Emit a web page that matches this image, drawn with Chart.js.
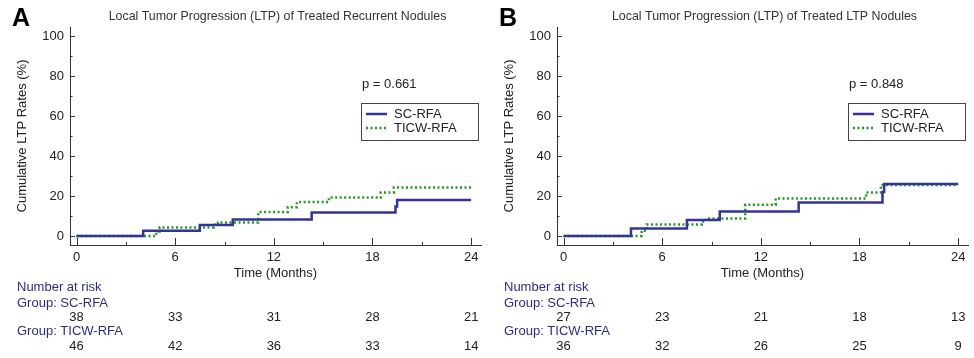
<!DOCTYPE html>
<html>
<head>
<meta charset="utf-8">
<script src="https://cdn.jsdelivr.net/npm/chart.js@4/dist/chart.umd.min.js"></script>
<style>
  body { margin: 0; background: #fff; }
  .panel { position: absolute; top: 0; width: 487px; height: 358px; }
</style>
</head>
<body>
<div class="panel" style="left:0"><canvas id="chart-a" width="487" height="358"></canvas></div>
<div class="panel" style="left:487px"><canvas id="chart-b" width="487" height="358"></canvas></div>
<script>
// axis ticks
const xTicks = [0, 6, 12, 18, 24];
const xMinorTicks = [3, 9, 15, 21];
const yTicks = [0, 20, 40, 60, 80, 100];
const yMinorTicks = [10, 30, 50, 70, 90];

// panel A - treated recurrent nodules
const scTimesA = [0, 4.05, 7.5, 9.5, 14.3, 19.4, 19.5, 24];
const scRatesA = [0, 2.6, 5.5, 8.3, 11.8, 14.7, 18.0, 18.0];
const ticwTimesA = [0, 4.85, 5.05, 8.35, 8.6, 11.05, 12.85, 13.4, 15.35, 18.5, 19.3, 24];
const ticwRatesA = [0, 2.2, 4.3, 5.6, 6.8, 12.0, 14.4, 17.0, 19.2, 21.8, 24.3, 24.3];
const scRiskA = [38, 33, 31, 28, 21];
const ticwRiskA = [46, 42, 36, 33, 14];

// panel B - treated LTP nodules
const scTimesB = [0, 4.1, 7.5, 9.5, 14.3, 19.4, 19.5, 24];
const scRatesB = [0, 3.8, 8.0, 12.2, 16.8, 22.0, 26.0, 26.0];
const ticwTimesB = [0, 4.75, 5.05, 8.4, 8.65, 11.05, 12.9, 18.4, 19.3, 24];
const ticwRatesB = [0, 2.6, 5.8, 7.2, 8.8, 15.6, 18.8, 21.8, 25.5, 25.5];
const scRiskB = [27, 23, 21, 18, 13];
const ticwRiskB = [36, 32, 26, 25, 9];

const BLUE = '#33339a';
const GREEN = '#1f9a1f';
const NAVY = '#2b2b8e';
const FONT = "'Liberation Sans', Arial, sans-serif";

Chart.defaults.font.family = FONT;
Chart.defaults.color = '#222';

function pts(xs, ys) {
    return xs.map((x, i) => ({ x: x, y: ys[i] }));
}

// ticks pointing inward, number-at-risk table, legend box, p value, panel letter
const kmDecor = {
    id: 'kmDecor',
    afterDraw(chart, args, o) {
        const ctx = chart.ctx;
        const xs = chart.scales.x, ys = chart.scales.y;
        const area = chart.chartArea;
        ctx.save();
        ctx.strokeStyle = '#333';
        ctx.lineWidth = 1;
        ctx.beginPath();
        yTicks.forEach(v => { const p = Math.round(ys.getPixelForValue(v)) + 0.5; ctx.moveTo(area.left, p); ctx.lineTo(area.left + 5, p); });
        yMinorTicks.forEach(v => { const p = Math.round(ys.getPixelForValue(v)) + 0.5; ctx.moveTo(area.left, p); ctx.lineTo(area.left + 2.5, p); });
        xTicks.forEach(v => { const p = Math.round(xs.getPixelForValue(v)) + 0.5; ctx.moveTo(p, area.bottom); ctx.lineTo(p, area.bottom - 7); });
        xMinorTicks.forEach(v => { const p = Math.round(xs.getPixelForValue(v)) + 0.5; ctx.moveTo(p, area.bottom); ctx.lineTo(p, area.bottom - 3); });
        ctx.stroke();

        // panel letter + title
        ctx.fillStyle = '#000';
        ctx.font = 'bold 25px ' + FONT;
        ctx.textBaseline = 'middle';
        ctx.textAlign = 'left';
        ctx.fillText(o.letter, 12, 19);
        ctx.fillStyle = '#333';
        ctx.font = '12.4px ' + FONT;
        ctx.textAlign = 'center';
        ctx.fillText(o.title, (area.left + area.right) / 2 + 2, 17);

        // p value and legend
        const boxR = area.right - 3, boxL = boxR - 117, boxT = 103, boxB = 140;
        ctx.font = '13px ' + FONT;
        ctx.textAlign = 'left';
        ctx.fillStyle = '#222';
        ctx.fillText(o.pText, boxL + 1, 84);
        ctx.strokeStyle = '#444';
        ctx.lineWidth = 1;
        ctx.strokeRect(boxL + 0.5, boxT + 0.5, boxR - boxL, boxB - boxT);
        ctx.lineWidth = 2.5;
        ctx.strokeStyle = BLUE;
        ctx.beginPath(); ctx.moveTo(boxL + 5, 114); ctx.lineTo(boxL + 26, 114); ctx.stroke();
        ctx.strokeStyle = GREEN;
        ctx.setLineDash([2, 2.5]);
        ctx.beginPath(); ctx.moveTo(boxL + 5, 128); ctx.lineTo(boxL + 26, 128); ctx.stroke();
        ctx.setLineDash([]);
        ctx.fillStyle = '#222';
        ctx.fillText('SC-RFA', boxL + 33, 114);
        ctx.fillText('TICW-RFA', boxL + 33, 128.5);

        // number at risk
        ctx.fillStyle = NAVY;
        ctx.fillText('Number at risk', 17, 287);
        ctx.fillText('Group: SC-RFA', 17, 303);
        ctx.fillText('Group: TICW-RFA', 17, 331);
        ctx.fillStyle = '#222';
        ctx.textAlign = 'center';
        xTicks.forEach((t, i) => {
            const px = xs.getPixelForValue(t);
            ctx.fillText(String(o.scRisk[i]), px, 317);
            ctx.fillText(String(o.ticwRisk[i]), px, 346);
        });
        ctx.restore();
    }
};

function makePanel(id, letter, title, pText, scT, scR, tiT, tiR, scRisk, ticwRisk) {
    return new Chart(document.getElementById(id).getContext('2d'), {
        type: 'line',
        data: {
            datasets: [{
                label: 'SC-RFA',
                data: pts(scT, scR),
                borderColor: BLUE,
                borderWidth: 2.5,
                stepped: true,
                pointRadius: 0,
                fill: false
            }, {
                label: 'TICW-RFA',
                data: pts(tiT, tiR),
                borderColor: GREEN,
                borderWidth: 2.5,
                borderDash: [2, 2.5],
                stepped: true,
                pointRadius: 0,
                fill: false
            }]
        },
        options: {
            responsive: false,
            animation: false,
            layout: { padding: { left: 0, right: 6, top: 27, bottom: 0 } },
            plugins: {
                legend: { display: false },
                tooltip: { enabled: false },
                kmDecor: { letter, title, pText, scRisk, ticwRisk }
            },
            scales: {
                x: {
                    type: 'linear',
                    min: -0.4,
                    max: 24.6,
                    grid: { display: false, drawTicks: false },
                    border: { display: true, color: '#333', width: 1 },
                    afterBuildTicks: s => { s.ticks = xTicks.map(v => ({ value: v })); },
                    afterFit: s => { s.height = 113; },
                    ticks: { padding: 5, color: '#222', font: { size: 13 }, maxRotation: 0 },
                    title: {
                        display: true,
                        text: 'Time (Months)',
                        color: '#222',
                        font: { size: 13 },
                        padding: { top: 0, bottom: 77 }
                    }
                },
                y: {
                    type: 'linear',
                    min: -4.5,
                    max: 104.5,
                    grid: { display: false, drawTicks: false },
                    border: { display: true, color: '#333', width: 1 },
                    afterBuildTicks: s => { s.ticks = yTicks.map(v => ({ value: v })); },
                    afterFit: s => { s.width = 70; },
                    ticks: { padding: 6, color: '#222', font: { size: 13 } },
                    title: {
                        display: true,
                        text: 'Cumulative LTP Rates (%)',
                        color: '#222',
                        font: { size: 13 },
                        padding: { top: 15, bottom: 0 }
                    }
                }
            }
        },
        plugins: [kmDecor]
    });
}

makePanel('chart-a', 'A', 'Local Tumor Progression (LTP) of Treated Recurrent Nodules', 'p = 0.661',
    scTimesA, scRatesA, ticwTimesA, ticwRatesA, scRiskA, ticwRiskA);
makePanel('chart-b', 'B', 'Local Tumor Progression (LTP) of Treated LTP Nodules', 'p = 0.848',
    scTimesB, scRatesB, ticwTimesB, ticwRatesB, scRiskB, ticwRiskB);
</script>
</body>
</html>
